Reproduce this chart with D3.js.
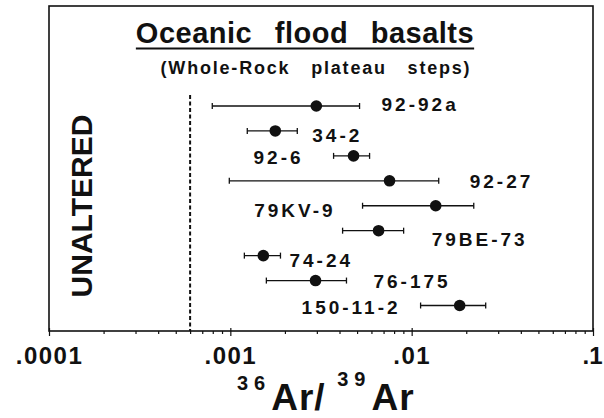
<!DOCTYPE html>
<html>
<head>
<meta charset="utf-8">
<script src="https://cdn.jsdelivr.net/npm/d3@7"></script>
<style>
  body { margin: 0; background: #fff; }
  svg { display: block; font-family: "Liberation Sans", Arial, sans-serif; font-weight: bold; }
</style>
</head>
<body>
<div id="chart"></div>
<script>
"use strict"

// sample names, top to bottom
var samples = ['92-92a', '34-2', '92-6', '92-27', '79KV-9', '79BE-73', '74-24', '76-175', '150-11-2'];
// 36Ar/39Ar plateau value and error bar ends
var ratio     = [0.00298, 0.00177, 0.00478, 0.00755, 0.01357, 0.00657, 0.00152, 0.00295, 0.0184];
var ratioLow  = [0.000795, 0.00124, 0.00371, 0.000987, 0.00536, 0.00416, 0.001195, 0.00158, 0.0112];
var ratioHigh = [0.00516, 0.00234, 0.00586, 0.0141, 0.022, 0.00903, 0.00189, 0.00437, 0.0256];
var unalteredLimit = 0.0006;
var majorTicks = [0.0001, 0.001, 0.01, 0.1];
var majorLabels = ['.0001', '.001', '.01', '.1'];

var width = 604, height = 418;
var frameL = 49, frameR = 593, frameT = 6, frameB = 331;

// where each sample label sits: side of error bar, gap (px), baseline shift (px)
var labelPlace = [
  ['r', 22, 5], ['r', 15, 11], ['l', 30, 8], ['r', 31, 7], ['l', 27, 11],
  ['r', 28, 15], ['r', 9, 11], ['r', 27, 7], ['l', 20, 8]
];

var svg = d3.select('#chart').append('svg')
  .attr('width', width)
  .attr('height', height);

var x = d3.scaleLog()
  .domain([majorTicks[0], majorTicks[majorTicks.length - 1]])
  .range([frameL, frameR]);

var y = d3.scalePoint()
  .domain(samples)
  .range([106, 305.5]);

// all decade ticks 1..9
var allTicks = [];
majorTicks.forEach(function (t, i) {
  if (i === majorTicks.length - 1) { allTicks.push(t); return; }
  for (var k = 1; k < 10; k++) allTicks.push(+(t * k).toPrecision(3));
});

var xAxis = d3.axisBottom(x)
  .tickValues(allTicks)
  .tickSize(3)
  .tickFormat(function (d) {
    var i = majorTicks.indexOf(d);
    return i >= 0 ? majorLabels[i] : '';
  });

var axisG = svg.append('g')
  .attr('transform', 'translate(0,' + frameB + ')')
  .call(xAxis);

axisG.select('.domain').remove();
axisG.selectAll('.tick line')
  .attr('stroke', '#111')
  .attr('stroke-width', 1.2)
  .attr('y1', function (d) { return majorTicks.indexOf(d) >= 0 ? -3 : 0; })
  .attr('y2', function (d) { return majorTicks.indexOf(d) >= 0 ? 5 : 3; });
axisG.selectAll('.tick text')
  .attr('y', 33)
  .attr('dy', 0)
  .attr('fill', '#111')
  .style('font-size', '24px')
  .style('font-weight', 'bold')
  .style('font-family', '"Liberation Sans", Arial, sans-serif')
  .style('letter-spacing', '1.5px');
// last label sits flush with the right edge
axisG.selectAll('.tick text')
  .filter(function (d) { return d === majorTicks[majorTicks.length - 1]; })
  .attr('text-anchor', 'end')
  .attr('x', 9)
  .style('letter-spacing', '0px');

// frame
svg.append('rect')
  .attr('x', frameL)
  .attr('y', frameT)
  .attr('width', frameR - frameL)
  .attr('height', frameB - frameT)
  .attr('fill', 'none')
  .attr('stroke', '#111')
  .attr('stroke-width', 1.6);

// unaltered limit
svg.append('line')
  .attr('x1', x(unalteredLimit))
  .attr('x2', x(unalteredLimit))
  .attr('y1', 95)
  .attr('y2', frameB)
  .attr('stroke', '#111')
  .attr('stroke-width', 2)
  .attr('stroke-dasharray', '4,2.5');

svg.append('text')
  .attr('transform', 'translate(92,206) rotate(-90)')
  .attr('text-anchor', 'middle')
  .style('font-size', '30px')
  .attr('fill', '#111')
  .text('UNALTERED');

// title
var title = svg.append('text')
  .attr('x', 305)
  .attr('y', 43)
  .attr('text-anchor', 'middle')
  .style('font-size', '29px')
  .style('word-spacing', '14px')
  .style('letter-spacing', '0.5px')
  .attr('fill', '#111')
  .text('Oceanic flood basalts');

var tLen = title.node().getComputedTextLength();
svg.append('line')
  .attr('x1', 305 - tLen / 2)
  .attr('x2', 305 + tLen / 2)
  .attr('y1', 48.5)
  .attr('y2', 48.5)
  .attr('stroke', '#111')
  .attr('stroke-width', 2);

svg.append('text')
  .attr('x', 316)
  .attr('y', 74)
  .attr('text-anchor', 'middle')
  .style('font-size', '18px')
  .style('word-spacing', '14px')
  .style('letter-spacing', '1.8px')
  .attr('fill', '#111')
  .text('(Whole-Rock plateau steps)');

// error bars
var rows = svg.append('g').selectAll('g')
  .data(samples)
  .enter()
  .append('g');

rows.append('line')
  .attr('x1', function (d, i) { return x(ratioLow[i]); })
  .attr('x2', function (d, i) { return x(ratioHigh[i]); })
  .attr('y1', function (d) { return y(d); })
  .attr('y2', function (d) { return y(d); })
  .attr('stroke', '#111')
  .attr('stroke-width', 1.3);

rows.append('line')
  .attr('x1', function (d, i) { return x(ratioLow[i]); })
  .attr('x2', function (d, i) { return x(ratioLow[i]); })
  .attr('y1', function (d) { return y(d) - 3; })
  .attr('y2', function (d) { return y(d) + 3; })
  .attr('stroke', '#111')
  .attr('stroke-width', 1.3);

rows.append('line')
  .attr('x1', function (d, i) { return x(ratioHigh[i]); })
  .attr('x2', function (d, i) { return x(ratioHigh[i]); })
  .attr('y1', function (d) { return y(d) - 3; })
  .attr('y2', function (d) { return y(d) + 3; })
  .attr('stroke', '#111')
  .attr('stroke-width', 1.3);

rows.append('circle')
  .attr('cx', function (d, i) { return x(ratio[i]); })
  .attr('cy', function (d) { return y(d); })
  .attr('r', 5.8)
  .attr('fill', '#111');

rows.append('text')
  .attr('x', function (d, i) {
    var p = labelPlace[i];
    return p[0] === 'r' ? x(ratioHigh[i]) + p[1] : x(ratioLow[i]) - p[1];
  })
  .attr('y', function (d, i) { return y(d) + labelPlace[i][2]; })
  .attr('text-anchor', function (d, i) { return labelPlace[i][0] === 'r' ? 'start' : 'end'; })
  .style('font-size', '19px')
  .style('letter-spacing', '3px')
  .attr('fill', '#111')
  .text(function (d) { return d; });

// axis title 36Ar/39Ar
var axTitle = svg.append('text')
  .attr('x', 237)
  .attr('y', 410)
  .attr('fill', '#111');
axTitle.append('tspan').attr('dy', -20).style('font-size', '20px').style('letter-spacing', '6px').text('36');
axTitle.append('tspan').attr('dy', 20).style('font-size', '37px').style('letter-spacing', '1px').text('Ar/');
axTitle.append('tspan').attr('dy', -24).style('font-size', '20px').style('letter-spacing', '6px').text(' 39');
axTitle.append('tspan').attr('dy', 24).style('font-size', '37px').style('letter-spacing', '1px').text('Ar');
</script>
</body>
</html>
